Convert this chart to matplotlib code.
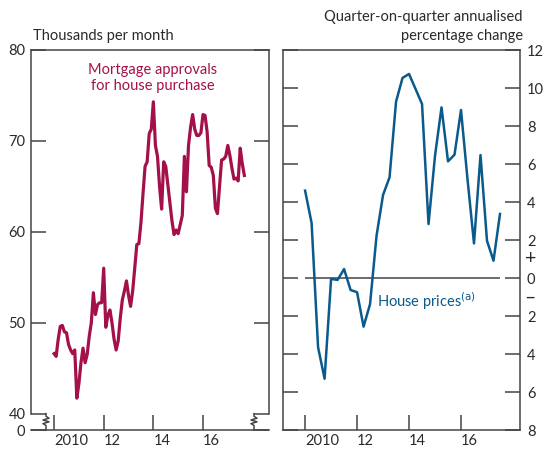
import numpy as np
import matplotlib
matplotlib.use('Agg')
import matplotlib.pyplot as plt
from matplotlib.transforms import blended_transform_factory

plt.rcParams['font.family'] = ['Lato', 'DejaVu Sans']

# monthly mortgage approvals for house purchase (thousands), Jan 2010 onwards
approvals = [46.6, 46.3, 48.2, 49.6, 49.7, 49.0, 48.9, 47.6, 47.0, 46.6, 47.0, 41.7,
             43.3, 45.6, 47.2, 45.6, 46.5, 48.5, 50.0, 53.3, 50.9, 52.0, 52.2, 52.2,
             56.0, 49.5, 50.8, 51.4, 50.0, 48.2, 47.0, 48.0, 50.5, 52.5, 53.5, 54.6,
             53.0, 51.8, 53.5, 56.0, 58.6, 58.7, 61.0, 64.2, 67.2, 67.7, 70.8, 71.3,
             74.3, 69.5, 68.3, 65.0, 62.5, 67.7, 67.2, 65.2, 63.2, 61.2, 59.7, 60.2,
             59.8, 60.8, 61.8, 68.3, 64.4, 69.5, 71.5, 72.9, 71.3, 70.6, 70.6, 70.9,
             72.9, 72.8, 71.0, 67.3, 67.1, 66.2, 62.6, 62.0, 65.0, 67.9, 68.0, 68.3,
             69.5, 68.4, 67.0, 65.8, 65.9, 65.6, 69.2, 67.5, 66.2]
approvals_start = 2010.0

# quarterly house prices, annualised % change, 2010 Q1 onwards
house_prices = [4.6, 2.9, -3.65, -5.3, -0.05, -0.1, 0.47, -0.63, -0.75, -2.56,
                -1.37, 2.23, 4.37, 5.3, 9.28, 10.53, 10.74, 9.95, 9.16, 2.84,
                6.44, 8.98, 6.14, 6.49, 8.84, 5.2, 1.82, 6.47, 1.96, 0.91, 3.37]
prices_start = 2010.0

year_ticks = [2010, 2012, 2014, 2016]
year_labels = ['2010', '12', '14', '16']

red = '#a4114a'
blue = '#0a5a8c'
dark = '#444444'
txt = '#2a2a2a'
fs = 10.5

W, H = 543, 449
fig = plt.figure(figsize=(W / 100, H / 100), dpi=100)


def box(x0, x1, y0, y1):
    return [x0 / W, 1 - y1 / H, (x1 - x0) / W, (y1 - y0) / H]


axl = fig.add_axes(box(31, 269, 50, 430))
axr = fig.add_axes(box(283, 520, 50, 430))

# ---- left panel
xm = approvals_start + np.arange(len(approvals)) / 12
axl.plot(xm, approvals, color=red, lw=2.3, solid_joinstyle='round')
axl.set_xlim(2009.07, 2018.66)
axl.set_ylim(38.2, 80)
axl.set_yticks([38.2, 40, 50, 60, 70, 80])
axl.set_yticklabels(['0', '40', '50', '60', '70', '80'])
axl.spines['left'].set_bounds(40, 80)
axl.spines['right'].set_bounds(40, 80)
axl.tick_params(axis='y', direction='in', length=11, width=1.1, color=dark,
                left=True, right=True, labelsize=fs, pad=4, labelcolor=txt)

# broken axis zigzags
tr = blended_transform_factory(axl.transAxes, axl.transData)
for xa in [15 / 238, 223 / 238]:
    dx = 3 / 238
    zx = [xa, xa, xa + dx, xa - dx, xa + dx, xa - dx, xa, xa]
    zy = [40, 39.7, 39.5, 39.3, 39.1, 38.9, 38.7, 38.2]
    axl.plot(zx, zy, color=dark, lw=1.1, transform=tr, clip_on=False)

fig.text(153 / W, 1 - 78 / H, 'Mortgage approvals\nfor house purchase', color=red,
         ha='center', va='center', fontsize=fs, linespacing=1.2)
fig.text(33 / W, 1 - 36 / H, 'Thousands per month', color=txt, ha='left',
         va='center', fontsize=fs)

# ---- right panel
xq = prices_start + np.arange(len(house_prices)) / 4
axr.hlines(0, xq[0], xq[-1], color=dark, lw=1.1)
axr.plot(xq, house_prices, color=blue, lw=1.8, solid_joinstyle='round')
axr.set_xlim(2009.15, 2018.27)
axr.set_ylim(-8, 12)
rticks = np.arange(-8, 13, 2)
axr.set_yticks(rticks)
axr.set_yticklabels([str(abs(t)) for t in rticks])
axr.tick_params(axis='y', direction='in', length=11, width=1.1, color=dark,
                left=True, right=True, labelleft=False, labelright=True,
                labelsize=fs, pad=5, labelcolor=txt)
trr = blended_transform_factory(axr.transAxes, axr.transData)
axr.text(1.02, 1, '+', transform=trr, ha='left', va='center', fontsize=14, color=txt)
axr.text(1.02, -1, '\u2013', transform=trr, ha='left', va='center', fontsize=14, color=txt)
axr.text(2012.75, -1.2, 'House prices$^{\\mathrm{(a)}}$', color=blue, ha='left',
         va='center', fontsize=fs)
fig.text(523 / W, 1 - 17 / H, 'Quarter-on-quarter annualised', color=txt,
         ha='right', va='center', fontsize=fs)
fig.text(523 / W, 1 - 36 / H, 'percentage change', color=txt,
         ha='right', va='center', fontsize=fs)

for ax in (axl, axr):
    for s in ax.spines.values():
        s.set_color(dark)
        s.set_linewidth(1.1)
    ax.set_xticks(year_ticks)
    ax.set_xticklabels(year_labels, ha='left')
    ax.tick_params(axis='x', direction='in', length=11, width=1.1, color=dark,
                   labelsize=fs, pad=3, labelcolor=txt)

fig.savefig('out.png', dpi=100)
